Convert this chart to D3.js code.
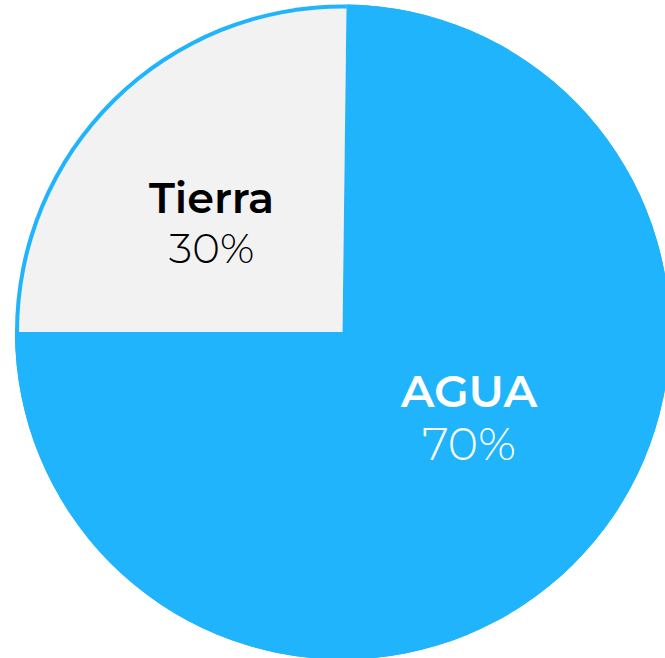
<!DOCTYPE html>
<html>
<head>
<meta charset="utf-8">
<script src="https://cdn.jsdelivr.net/npm/d3@7/dist/d3.min.js"></script>
<style>
  html, body { margin: 0; padding: 0; background: #ffffff; }
  svg { display: block; }
  text { font-family: Montserrat, Inter, "Open Sans", sans-serif; }
</style>
</head>
<body>
<svg id="chart" width="665" height="658"></svg>
<script>
// ---- data ----
const categories = ["AGUA", "Tierra"];
const shares = [74.8, 25.2];          // angular share as drawn
const valueLabels = ["70%", "30%"];   // printed labels

// ---- layout / style ----
const W = 665, H = 658;
const cx = 342.5, cy = 332, R = 327.5;
const inset = 4;
const fills = ["#20b4fd", "#f2f2f2"];
const textColors = ["#ffffff", "#000000"];
const startOffset = 0.7 * Math.PI / 180;
const labelPos = [{r: 153, a: 124.3}, {r: 171, a: -50}];
const nameSizes = [45, 43];
const valueSizes = [46, 42];
const nameDy = [-11, -9];
const valueDy = [42, 41];

const svg = d3.select("#chart");
const g = svg.append("g").attr("transform", `translate(${cx},${cy})`);

const pie = d3.pie().sort(null).value(d => d)
  .startAngle(startOffset).endAngle(startOffset + 2 * Math.PI);
const arcs = pie(shares);

const outerArc = d3.arc().innerRadius(0).outerRadius(R);
const innerArc = d3.arc().innerRadius(0).outerRadius(R - inset);

// base blue disc for every slice
g.selectAll("path.base").data(arcs).join("path")
  .attr("class", "base")
  .attr("d", outerArc)
  .attr("fill", fills[0]);

// slice fills (Tierra inset, leaving a blue rim)
g.selectAll("path.slice").data(arcs).join("path")
  .attr("class", "slice")
  .attr("d", (d, i) => i === 0 ? outerArc(d) : innerArc(d))
  .attr("fill", (d, i) => fills[i]);

// labels
const lab = g.selectAll("g.label").data(arcs).join("g")
  .attr("class", "label")
  .attr("transform", (d, i) => {
    const a = labelPos[i].a * Math.PI / 180;
    const x = labelPos[i].r * Math.sin(a);
    const y = -labelPos[i].r * Math.cos(a);
    return `translate(${x},${y})`;
  });

lab.append("text")
  .attr("text-anchor", "middle")
  .attr("y", (d, i) => nameDy[i])
  .attr("font-size", (d, i) => nameSizes[i])
  .attr("font-weight", 600)
  .attr("fill", (d, i) => textColors[i])
  .text((d, i) => categories[i]);

lab.append("text")
  .attr("text-anchor", "middle")
  .attr("y", (d, i) => valueDy[i])
  .attr("font-size", (d, i) => valueSizes[i])
  .attr("font-weight", 300)
  .attr("fill", (d, i) => textColors[i])
  .text((d, i) => valueLabels[i]);
</script>
</body>
</html>
